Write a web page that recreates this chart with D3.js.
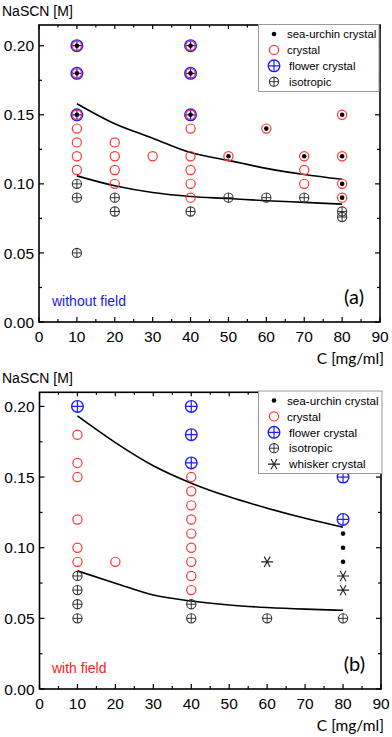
<!DOCTYPE html>
<html>
<head>
<meta charset="utf-8">
<script src="https://cdn.jsdelivr.net/npm/d3@7"></script>
<style>
  body { margin: 0; background: #fff; }
  svg { display: block; }
</style>
</head>
<body>
<svg id="chart" width="392" height="737"></svg>
<script>
// tick values
const xTicks = [0, 10, 20, 30, 40, 50, 60, 70, 80, 90];
const yTicks = [0.00, 0.05, 0.10, 0.15, 0.20];
const boundaryC = [10, 20, 30, 40, 50, 60, 70, 80];

// (a) without field
const urchinA = [[10, 0.20], [10, 0.18], [10, 0.15], [40, 0.20], [40, 0.18], [40, 0.15],
    [50, 0.12], [60, 0.14], [70, 0.12], [80, 0.15], [80, 0.12], [80, 0.10], [80, 0.09]];
const crystalA = [[10, 0.20], [10, 0.18], [10, 0.15], [10, 0.14], [10, 0.13], [10, 0.12], [10, 0.11],
    [20, 0.13], [20, 0.12], [20, 0.11], [20, 0.10], [30, 0.12],
    [40, 0.20], [40, 0.18], [40, 0.15], [40, 0.14], [40, 0.12], [40, 0.11], [40, 0.10], [40, 0.09],
    [50, 0.12], [60, 0.14], [70, 0.12], [70, 0.11], [70, 0.10],
    [80, 0.15], [80, 0.12], [80, 0.10], [80, 0.09]];
const flowerA = [[10, 0.20], [10, 0.18], [10, 0.15], [40, 0.20], [40, 0.18], [40, 0.15]];
const isoA = [[10, 0.10], [10, 0.09], [10, 0.05], [20, 0.09], [20, 0.08], [40, 0.08],
    [50, 0.09], [60, 0.09], [70, 0.09], [80, 0.08], [80, 0.076]];
const whiskerA = [];
const upperA = [0.158, 0.1435, 0.1331, 0.1227, 0.117, 0.1112, 0.1068, 0.1033];
const lowerA = [0.1058, 0.0986, 0.0937, 0.0908, 0.0894, 0.0878, 0.0866, 0.0853];

// (b) with field
const urchinB = [[80, 0.11], [80, 0.10], [80, 0.09]];
const crystalB = [[10, 0.18], [10, 0.16], [10, 0.15], [10, 0.12], [10, 0.10], [10, 0.09], [20, 0.09],
    [40, 0.15], [40, 0.14], [40, 0.13], [40, 0.12], [40, 0.11], [40, 0.10], [40, 0.09], [40, 0.08], [40, 0.07]];
const flowerB = [[10, 0.20], [40, 0.20], [40, 0.18], [40, 0.16], [80, 0.15], [80, 0.12]];
const isoB = [[10, 0.08], [10, 0.07], [10, 0.06], [10, 0.05], [40, 0.06], [40, 0.05], [60, 0.05], [80, 0.05]];
const whiskerB = [[60, 0.09], [80, 0.08], [80, 0.07]];
const upperB = [0.1933, 0.1744, 0.158, 0.1457, 0.136, 0.128, 0.1208, 0.1145];
const lowerB = [0.0836, 0.0749, 0.0665, 0.0623, 0.0595, 0.0577, 0.0565, 0.0557];

const red = "#ff3333", blue = "#1f1fff", grey = "#333";
const svg = d3.select("#chart");

// marker painters
function flower(g, r) {
    g.append("circle").attr("r", r).attr("fill", "none").attr("stroke", blue).attr("stroke-width", 1.4);
    g.append("path").attr("d", "M" + (-r) + ",0H" + r + "M0," + (-r) + "V" + r)
        .attr("stroke", blue).attr("stroke-width", 1.2);
}
function iso(g, r) {
    g.append("circle").attr("r", r).attr("fill", "none").attr("stroke", grey).attr("stroke-width", 1.1);
    g.append("path").attr("d", "M" + (-r) + ",0H" + r + "M0," + (-r) + "V" + r)
        .attr("stroke", grey).attr("stroke-width", 1);
}
function crystal(g, r) {
    g.append("circle").attr("r", r).attr("fill", "none").attr("stroke", red).attr("stroke-width", 1.2);
}
function urchin(g, r) {
    g.append("circle").attr("r", r).attr("fill", "#000");
}
function whisker(g, r) {
    let d = "M" + (-r) + ",0H" + r;
    [60, 120].forEach(function(a) {
        let dx = r * Math.cos(a * Math.PI / 180), dy = r * Math.sin(a * Math.PI / 180);
        d += "M" + dx + "," + (-dy) + "L" + (-dx) + "," + dy;
    });
    g.append("path").attr("d", d).attr("stroke", "#222").attr("stroke-width", 1.1);
}

function drawPanel(p) {
    let x = d3.scaleLinear().domain([0, 90]).range([p.left, p.right]);
    let y = d3.scaleLinear().domain([0, p.yMax]).range([p.bottom, p.top]);
    let g = svg.append("g");

    // inward ticks on all four sides
    let minorX = d3.range(5, 90, 10), minorY = [0.025, 0.075, 0.125, 0.175];
    let tk = g.append("g").attr("stroke", "#000").attr("stroke-width", 1.2);
    xTicks.forEach(function(v) {
        tk.append("line").attr("x1", x(v)).attr("x2", x(v)).attr("y1", p.bottom).attr("y2", p.bottom - 5);
        tk.append("line").attr("x1", x(v)).attr("x2", x(v)).attr("y1", p.top).attr("y2", p.top + 4);
    });
    minorX.forEach(function(v) {
        tk.append("line").attr("x1", x(v)).attr("x2", x(v)).attr("y1", p.bottom).attr("y2", p.bottom - 3);
        tk.append("line").attr("x1", x(v)).attr("x2", x(v)).attr("y1", p.top).attr("y2", p.top + 2.5);
    });
    yTicks.forEach(function(v) {
        tk.append("line").attr("y1", y(v)).attr("y2", y(v)).attr("x1", p.left).attr("x2", p.left + 5);
        tk.append("line").attr("y1", y(v)).attr("y2", y(v)).attr("x1", p.right).attr("x2", p.right - 5);
    });
    minorY.forEach(function(v) {
        tk.append("line").attr("y1", y(v)).attr("y2", y(v)).attr("x1", p.left).attr("x2", p.left + 3);
        tk.append("line").attr("y1", y(v)).attr("y2", y(v)).attr("x1", p.right).attr("x2", p.right - 3);
    });

    // frame
    g.append("rect").attr("x", p.left).attr("y", p.top)
        .attr("width", p.right - p.left).attr("height", p.bottom - p.top)
        .attr("fill", "none").attr("stroke", "#000").attr("stroke-width", 1.6);

    // tick labels
    g.selectAll(".xl").data(xTicks).enter().append("text")
        .attr("x", function(d) { return x(d); })
        .attr("y", p.bottom + 19.5)
        .attr("text-anchor", "middle")
        .attr("font-family", "Liberation Sans, Arial, sans-serif")
        .attr("font-size", "15.5px")
        .text(function(d) { return d; });
    g.selectAll(".yl").data(yTicks).enter().append("text")
        .attr("x", p.left - 5)
        .attr("y", function(d) { return y(d) + 5.6; })
        .attr("text-anchor", "end")
        .attr("font-family", "Liberation Sans, Arial, sans-serif")
        .attr("font-size", "15.5px")
        .text(function(d) { return d.toFixed(2); });

    // axis titles
    g.append("text").attr("x", 2).attr("y", p.top - 9.5)
        .attr("font-family", "Liberation Sans, Arial, sans-serif").attr("font-size", "14px")
        .text("NaSCN [M]");
    g.append("text").attr("x", 384).attr("y", p.bottom + 42)
        .attr("text-anchor", "end")
        .attr("font-family", "Lato, sans-serif").attr("font-size", "15.5px")
        .text("C [mg/ml]");

    // boundary lines
    let line = d3.line()
        .x(function(d, i) { return x(boundaryC[i]); })
        .y(function(d) { return y(d); })
        .curve(d3.curveMonotoneX);
    [p.upper, p.lower].forEach(function(s) {
        g.append("path").datum(s).attr("d", line)
            .attr("fill", "none").attr("stroke", "#000").attr("stroke-width", 1.6);
    });

    // markers
    function plot(data, painter, r) {
        data.forEach(function(d) {
            let m = g.append("g").attr("transform", "translate(" + x(d[0]) + "," + y(d[1]) + ")");
            painter(m, r);
        });
    }
    plot(p.flower, flower, 5.8);
    plot(p.iso, iso, 4.6);
    plot(p.crystal, crystal, 4.6);
    plot(p.whisker, whisker, 6);
    plot(p.urchin, urchin, 2.3);

    // panel note and letter
    g.append("text").attr("x", 52).attr("y", p.bottom - 16)
        .attr("font-family", "Liberation Sans, Arial, sans-serif").attr("font-size", "14px")
        .attr("fill", p.noteColor).text(p.note);
    g.append("text").attr("x", p.right - 16).attr("y", p.bottom - 18)
        .attr("text-anchor", "end")
        .attr("font-family", "Lato, sans-serif").attr("font-size", "20px")
        .text(p.letter);

    // legend
    let lg = g.append("g");
    lg.append("rect").attr("x", 258.5).attr("y", p.legTop)
        .attr("width", p.legW).attr("height", p.legH)
        .attr("fill", "#fff").attr("stroke", "#999").attr("stroke-width", 1);
    p.legend.forEach(function(e, i) {
        let cy = p.legTop + 9.5 + i * 15.9;
        let m = lg.append("g").attr("transform", "translate(274," + cy + ")");
        e[1](m, e[2]);
        lg.append("text").attr("x", e[3]).attr("y", cy + 4.2)
            .attr("font-family", "Liberation Sans, Arial, sans-serif").attr("font-size", p.legFont)
            .text(e[0]);
    });
}

const legendA = [["sea-urchin crystal", urchin, 2.3, 287], ["crystal", crystal, 4.6, 287],
    ["flower crystal", flower, 5.8, 289], ["isotropic", iso, 4.6, 289]];
const legendB = legendA.concat([["whisker crystal", whisker, 6, 289]]);

drawPanel({
    left: 39, right: 380, top: 25, bottom: 322, yMax: 0.215,
    upper: upperA, lower: lowerA,
    urchin: urchinA, crystal: crystalA, flower: flowerA, iso: isoA, whisker: whiskerA,
    note: "without field", noteColor: "#1a1ae6", letter: "(a)",
    legTop: 24.5, legW: 120.5, legH: 67, legend: legendA, legFont: "11.4px"
});
drawPanel({
    left: 39.5, right: 381, top: 392.3, bottom: 689, yMax: 0.21,
    upper: upperB, lower: lowerB,
    urchin: urchinB, crystal: crystalB, flower: flowerB, iso: isoB, whisker: whiskerB,
    note: "with field", noteColor: "#ff2020", letter: "(b)",
    legTop: 391, legW: 123.5, legH: 82.5, legend: legendB, legFont: "11.7px"
});
</script>
</body>
</html>
